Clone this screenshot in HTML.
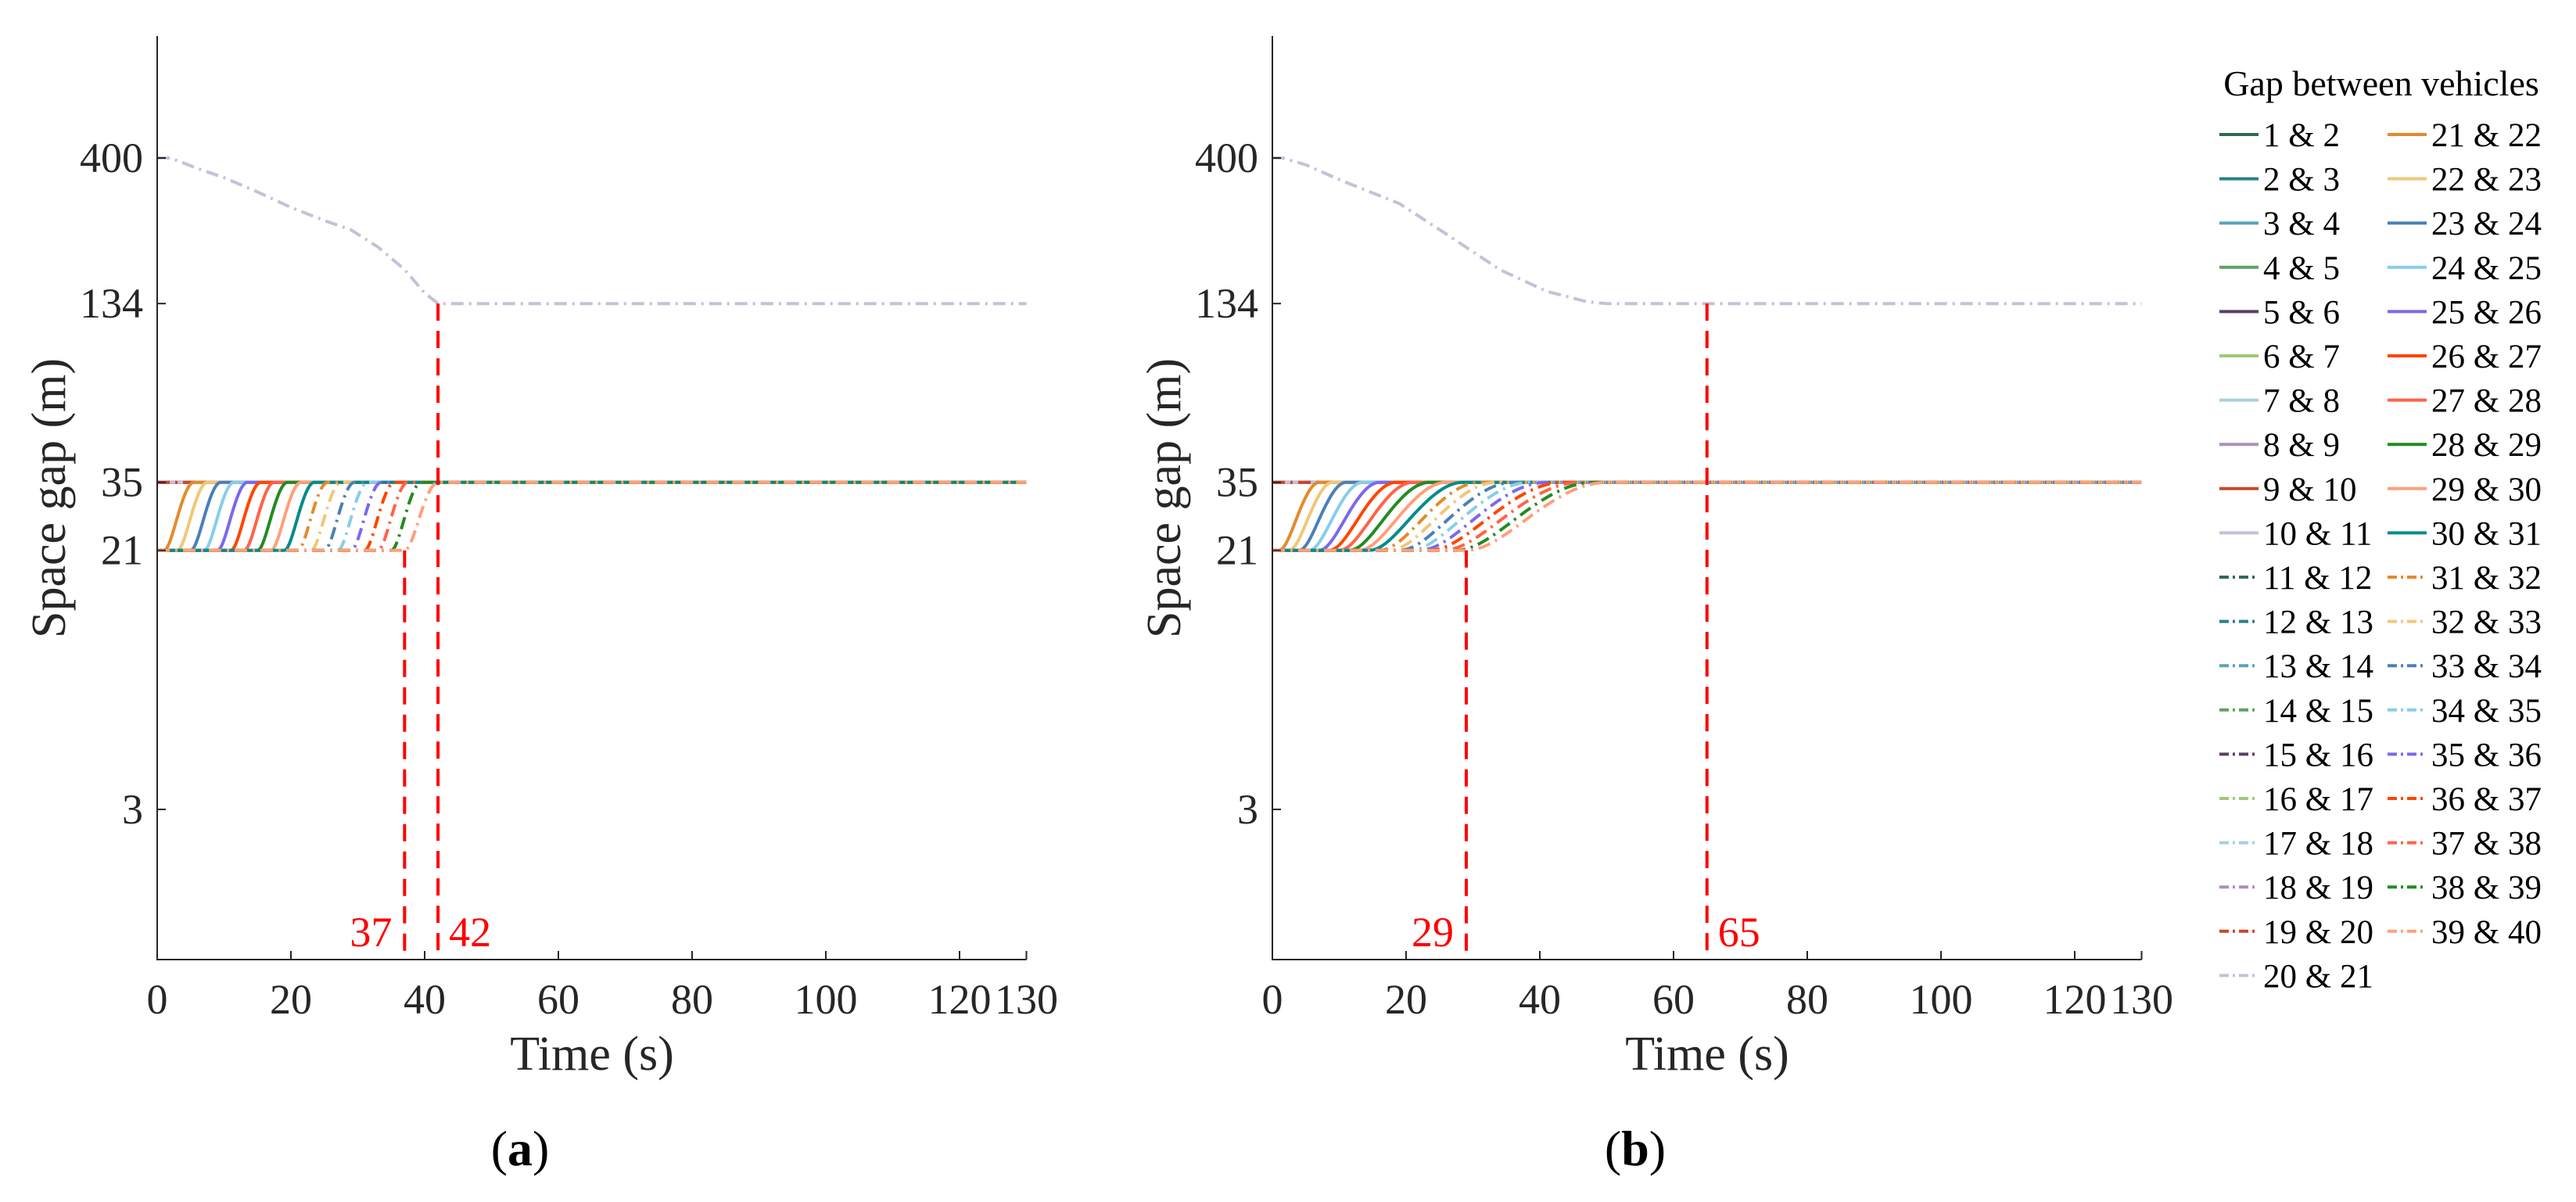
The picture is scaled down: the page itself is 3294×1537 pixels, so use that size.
<!DOCTYPE html>
<html><head><meta charset="utf-8"><style>
html,body{margin:0;padding:0;background:#fff;}
svg{display:block;}
svg text{font-family:"Liberation Serif","Times New Roman",serif;}
</style></head><body>
<svg id="fig" width="3294" height="1537" viewBox="0 0 3294 1537" font-family="Liberation Serif, serif"></svg>
<script>
// ---- data ----
const gapLabels = [];
for (let i = 1; i <= 39; i++) gapLabels.push(i + ' & ' + (i + 1));
const paletteA = ['#2e6b4f','#2a7f8a','#56a5b8','#5fa35f','#5a3f63','#a0c878','#a8d0e0','#ab8fba','#c9472b','#c8bfd8'];
const paletteB = ['#e38b2c','#f0c878','#4a80b8','#87ceeb','#7b68ee','#ff4500','#ff6347','#228b22','#ffa07a','#008b8b'];
const xTicks = [0,20,40,60,80,100,120,130];
const yTicks = [3,21,35,134,400];
// panel (a): gaps 21&22 .. 39&40
const startA = [1,3,5,7,9,11,13,15,17,19,21,23,25,27,29,31,33,35,37];
const endA   = [5.5,7.5,9.5,11.5,13.5,15.5,17.5,19.5,21.5,23.5,25.5,27.5,29.5,31.5,33.5,35.5,37.5,39.5,42];
const leadT_A = [0,2,6,10,15,20,25,29,33,37,40,42,130];
const leadV_A = [400,400,370,345,310,276,250,233,205,173,145,134,134];
const markA = [37,42];
// panel (b)
const startB = [1,2.5,4,5.5,7,8.5,10,11.5,13,14.5,16,17.5,19,20.5,22,23.5,25.5,27.5,29];
const endB   = [7,9,11,13.5,16,18.5,21,23.5,26,28.5,31,33.5,36,38.5,41,43.5,46,48,50];
const leadT_B = [0,1.5,5,10,19,26,34,41,47,50,130];
const leadV_B = [400,400,380,340,284,226,173,147,136,134,134];
const markB = [29,65];

const NS = 'http://www.w3.org/2000/svg';
const svg = document.getElementById('fig');
const FONT = '"Liberation Serif", serif';
function mk(tag, attrs, parent){ const e=document.createElementNS(NS,tag); for(const k in attrs) e.setAttribute(k,attrs[k]); if(tag==='text') e.setAttribute('font-family', FONT); (parent||svg).appendChild(e); return e; }

const Y0 = 46, YB = 1227, PXDEC = 392;
function yS(v){ return Math.min(YB, Y0 + (3 - Math.log10(v)) * PXDEC); }
const DASHDOT = '16 7 3 7';

function panel(x0, letter, starts, ends, leadT, leadV, marks){
  const xS = t => x0 + t * 8.55;
  const g = mk('g', {});
  
  
  // flat gaps 1-19 at 35
  for (let i = 0; i < 19; i++){
    const p = mk('path', {d:`M${xS(0)},${yS(35)}L${xS(130)},${yS(35)}`, fill:'none', stroke: paletteA[i%10], 'stroke-width':4, 'stroke-dasharray': i>=10?DASHDOT:'none'}, g);
    
    
  }
  // gap 20 & 21
  let d = '';
  leadT.forEach((t,k)=>{ d += (k?'L':'M') + xS(t).toFixed(1) + ',' + yS(leadV[k]).toFixed(1); });
  const lp = mk('path', {d, fill:'none', stroke: paletteA[9], 'stroke-width':4, 'stroke-dasharray': DASHDOT}, g);
  
  
  // gaps 21..39
  for (let k = 0; k < starts.length; k++){
    const s = starts[k], e = ends[k];
    let dd = `M${xS(0)},${yS(21)}L${xS(s).toFixed(1)},${yS(21)}`;
    for (let j = 1; j <= 24; j++){
      const f = j/24, sm = f*f*(3-2*f);
      dd += `L${xS(s + (e-s)*f).toFixed(1)},${yS(21 + 14*sm).toFixed(1)}`;
    }
    dd += `L${xS(130)},${yS(35)}`;
    const p = mk('path', {d: dd, fill:'none', stroke: paletteB[k%10], 'stroke-width':4, 'stroke-dasharray': k>=10?DASHDOT:'none'}, g);
    
    
  }
  // red marker lines
  const mv = [21, 134];
  marks.forEach((m,k)=>{
    const l = mk('line', {x1:xS(m), x2:xS(m), y1:yS(mv[k]), y2:YB, stroke:'#ff0000', 'stroke-width':4, 'stroke-dasharray':'22 13'}, g);
    
    
    const tx = mk('text', {x: k===0 ? xS(m)-16 : xS(m)+14, y:1210, 'font-size':54, fill:'#ff0000', 'text-anchor': k===0?'end':'start'}, g);
    tx.textContent = m;
    
    
  });
  // axes
  const ax = mk('path', {d:`M${xS(0)},${Y0}L${xS(0)},${YB}L${xS(130)},${YB}`, fill:'none', stroke:'#262626', 'stroke-width':2}, g);
  
  
  xTicks.forEach(t=>{
    mk('line', {x1:xS(t), x2:xS(t), y1:YB, y2:YB-11, stroke:'#262626', 'stroke-width':2}, g);
    const tl = mk('text', {x:xS(t), y:1296, 'font-size':54, fill:'#262626', 'text-anchor':'middle'}, g);
    tl.textContent = t;
    
    
  });
  yTicks.forEach(v=>{
    mk('line', {x1:xS(0), x2:xS(0)+11, y1:yS(v), y2:yS(v), stroke:'#262626', 'stroke-width':2}, g);
    const tl = mk('text', {x:xS(0)-18, y:yS(v)+18, 'font-size':54, fill:'#262626', 'text-anchor':'end'}, g);
    tl.textContent = v;
    
    
  });
  const xt = mk('text', {x:xS(0)+556, y:1368, 'font-size':62, fill:'#262626', 'text-anchor':'middle'}, g);
  xt.textContent = 'Time (s)';
  
  
  const yt = mk('text', {x:0, y:0, 'font-size':62, fill:'#262626', 'text-anchor':'middle', transform:`translate(${xS(0)-118},637) rotate(-90)`}, g);
  yt.textContent = 'Space gap (m)';
  
  
  const cap = mk('text', {x:xS(0)+464, y:1490, 'font-size':64, fill:'#000', 'text-anchor':'middle'}, g);
  cap.innerHTML = '(<tspan font-weight="bold">' + letter + '</tspan>)';
  
  
}
panel(201, 'a', startA, endA, leadT_A, leadV_A, markA);
panel(1627, 'b', startB, endB, leadT_B, leadV_B, markB);

// legend
const lg = mk('g', {});


const lt = mk('text', {x:3045, y:122, 'font-size':46, fill:'#000', 'text-anchor':'middle'}, lg);
lt.textContent = 'Gap between vehicles';


gapLabels.forEach((lab, i)=>{
  const col = i < 20 ? 0 : 1, row = i < 20 ? i : i - 20;
  const x = col ? 3053 : 2838, y = 172 + row * 56.6;
  const color = i < 20 ? paletteA[i%10] : paletteB[(i-20)%10];
  const dashed = (i%20) >= 10;
  const ln = mk('line', {x1:x, x2:x+50, y1:y, y2:y, stroke:color, 'stroke-width':4, 'stroke-dasharray': dashed?'12 5 3 5':'none'}, lg);
  
  
  const tx = mk('text', {x:x+56, y:y+15, 'font-size':43, fill:'#000'}, lg);
  tx.textContent = lab;
  
  
});
</script>
</body></html>
